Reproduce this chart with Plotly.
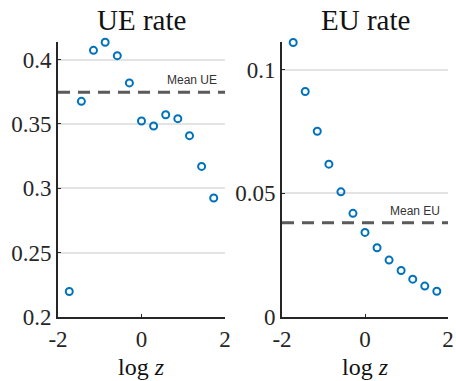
import plotly.graph_objects as go

log_z = [-1.73, -1.44, -1.15, -0.87, -0.58, -0.29, 0.0, 0.29, 0.58, 0.87, 1.15, 1.44, 1.73]
ue_rate = [0.2198, 0.3676, 0.4072, 0.4135, 0.4031, 0.3819, 0.3523, 0.3484, 0.3572, 0.3541, 0.3409, 0.3170, 0.2925]
eu_rate = [0.1110, 0.0912, 0.0751, 0.0618, 0.0506, 0.0419, 0.0342, 0.0280, 0.0230, 0.0188, 0.0153, 0.0125, 0.0104]
mean_ue = 0.3746
mean_eu = 0.0381

x_ticks = [-2, 0, 2]
x_ticktext = ["-2", "0", "2"]
ue_ticks = [0.2, 0.25, 0.3, 0.35, 0.4]
ue_ticktext = ["0.2", "0.25", "0.3", "0.35", "0.4"]
eu_ticks = [0, 0.05, 0.1]
eu_ticktext = ["0", "0.05", "0.1"]

BLUE = "#0072BD"
AX = "#262626"
SERIF = "Liberation Serif, DejaVu Serif, serif"

fig = go.Figure()

marker = dict(symbol="circle-open", size=7, color=BLUE, line=dict(width=2, color=BLUE))

fig.add_trace(go.Scatter(x=log_z, y=ue_rate, mode="markers", marker=marker,
                         xaxis="x", yaxis="y", showlegend=False, cliponaxis=False))
fig.add_trace(go.Scatter(x=log_z, y=eu_rate, mode="markers", marker=marker,
                         xaxis="x2", yaxis="y2", showlegend=False, cliponaxis=False))

# mean lines
fig.add_trace(go.Scatter(x=[-2, 2], y=[mean_ue, mean_ue], mode="lines",
                         line=dict(color="#5a5a5a", width=3, dash="12px,8px"),
                         xaxis="x", yaxis="y", showlegend=False))
fig.add_trace(go.Scatter(x=[-2, 2], y=[mean_eu, mean_eu], mode="lines",
                         line=dict(color="#5a5a5a", width=3, dash="12px,8px"),
                         xaxis="x2", yaxis="y2", showlegend=False))

axis_common = dict(
    showline=True, linecolor=AX, linewidth=2, mirror=False,
    ticks="inside", ticklen=3, tickwidth=1, tickcolor=AX,
    tickfont=dict(family=SERIF, size=23, color=AX),
    zeroline=False, automargin=False,
)

fig.update_layout(
    width=456, height=381,
    margin=dict(l=0, r=0, t=0, b=0),
    font=dict(family=SERIF),
    paper_bgcolor="white", plot_bgcolor="white",
    xaxis=dict(domain=[0.1272, 0.4934], range=[-2, 2], tickvals=x_ticks, ticktext=x_ticktext,
               showgrid=False, anchor="y", **axis_common),
    yaxis=dict(domain=[0.168, 0.8898], range=[0.2, 0.4137], tickvals=ue_ticks, ticktext=ue_ticktext,
               showgrid=True, gridcolor="#e3e3e3", gridwidth=1.5, anchor="x", **axis_common),
    xaxis2=dict(domain=[0.6184, 0.9825], range=[-2, 2], tickvals=x_ticks, ticktext=x_ticktext,
                showgrid=False, anchor="y2", **axis_common),
    yaxis2=dict(domain=[0.168, 0.8898], range=[0, 0.1112], tickvals=eu_ticks, ticktext=eu_ticktext,
                showgrid=True, gridcolor="#e3e3e3", gridwidth=1.5, anchor="x2", **axis_common),
    annotations=[
        dict(text="UE rate", xref="paper", yref="paper", x=141.5/456, y=1 - 20/381,
             showarrow=False, font=dict(family=SERIF, size=29, color="#111"), xanchor="center", yanchor="middle"),
        dict(text="EU rate", xref="paper", yref="paper", x=365/456, y=1 - 20/381,
             showarrow=False, font=dict(family=SERIF, size=29, color="#111"), xanchor="center", yanchor="middle"),
        dict(text="log <i>z</i>", xref="paper", yref="paper", x=141.5/456, y=1 - 367/381,
             showarrow=False, font=dict(family=SERIF, size=24, color="#111"), xanchor="center", yanchor="middle"),
        dict(text="log <i>z</i>", xref="paper", yref="paper", x=365/456, y=1 - 367/381,
             showarrow=False, font=dict(family=SERIF, size=24, color="#111"), xanchor="center", yanchor="middle"),
        dict(text="Mean UE", xref="x", yref="y", x=1.85, y=mean_ue, yshift=3,
             showarrow=False, font=dict(family="Liberation Sans, Arial, sans-serif", size=12, color="#333"),
             xanchor="right", yanchor="bottom"),
        dict(text="Mean EU", xref="x2", yref="y2", x=1.85, y=mean_eu, yshift=3,
             showarrow=False, font=dict(family="Liberation Sans, Arial, sans-serif", size=12, color="#333"),
             xanchor="right", yanchor="bottom"),
    ],
)

fig.write_html("out.html", config={"displayModeBar": False, "displaylogo": False},
               post_script="document.body.style.margin='0';document.body.style.overflow='hidden';")
